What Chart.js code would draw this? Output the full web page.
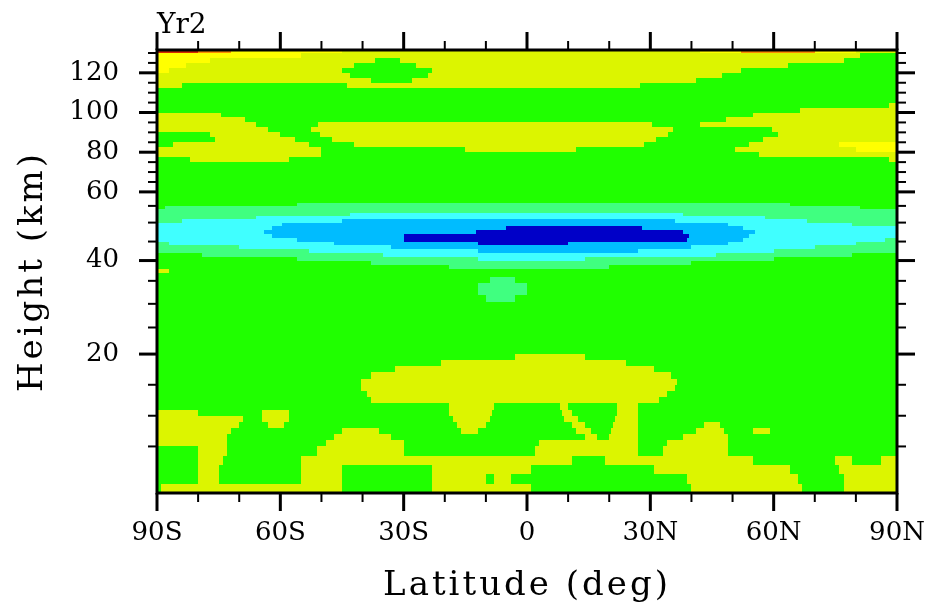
<!DOCTYPE html>
<html>
<head>
<meta charset="utf-8">
<script src="https://cdn.jsdelivr.net/npm/chart.js@4.4.1/dist/chart.umd.min.js"></script>
<style>
html,body{margin:0;padding:0;background:#fff;overflow:hidden;}
canvas{display:block;}
</style>
</head>
<body>
<canvas id="c" width="931" height="609"></canvas>
<script>
// ---------------- data ----------------
const plotTitle = 'Yr2';
const xTitle = 'Latitude (deg)';
const yTitle = 'Height (km)';

const latRange = [-90, 90];
const heightRange = [0, 131.5];

const latMajorTicks = [-90, -60, -30, 0, 30, 60, 90];
const latTickLabels = ['90S', '60S', '30S', '0', '30N', '60N', '90N'];
const latMinorTicks = [-80, -70, -50, -40, -20, -10, 10, 20, 40, 50, 70, 80];

const heightMajorTicks = [20, 40, 60, 80, 100, 120];
const heightMinorTicks = [5, 10, 15, 25, 30, 35, 45, 50, 55, 65, 70, 75, 85, 90, 95, 105, 110, 115, 125, 130];

// vertical coordinate of the model grid: height (km) -> fraction of the axis
const axisKnotHeights = [0, 5, 10, 15, 20, 25, 30, 35, 40, 45, 50, 55, 60, 131.5];
const axisKnotLevels  = [0, 0.1051, 0.1744, 0.2443, 0.3136, 0.3736, 0.4270, 0.4789, 0.5247, 0.5676, 0.6104, 0.6481, 0.6797, 1.0];

// contour class bands.
// rowEdgeHeights: height bands (km); rowRuns: "class lat class lat class ..." from 90S to 90N
const rowEdgeHeights = [
  0, 1, 2, 3, 4, 5, 6, 7, 8, 9, 10, 11, 12, 13, 14, 15, 16, 17, 18, 19, 20,
  30.5, 32, 34.5, 36, 37, 38, 39, 40, 41, 42, 43, 44, 45, 46, 47, 48, 49, 50,
  51, 52, 53, 54, 55, 56,
  75, 77.5, 80, 82.5, 85, 87.5, 90, 92.5, 95, 97.5, 100, 102.5, 105,
  112.5, 115, 117.5, 120, 122.5, 125, 127.5, 130, 131.5
];
const rowRuns = [
  'G -89 Y -45 G -23 Y 1 G 40 Y 67 G 77 Y',
  'G -80 Y -75 G -55 Y -45 G -23 Y -10 G -8 Y -4 G 39 Y 66 G 77 Y',
  'G -80 Y -75 G -55 Y -45 G -23 Y 1 G 31 Y 64 G 76 Y',
  'G -80 Y -74 G -55 Y 11 G 19 Y 55 G 75 Y 79 G 86 Y',
  'G -80 Y -73 G -51 Y -30 G 2 Y 27 G 33 Y 49 G',
  'Y -73 G -49 Y -30 G 3 Y 27 G 34 Y 49 G',
  'Y -73 G -47 Y -33 G 14 Y 17 G 20 Y 27 G 38 Y 49 G',
  'Y -72 G -45 Y -36 G -16 Y -12 G 12 Y 15.5 G 20.5 Y 27 G 41 Y 48 G 55 Y 59 G',
  'Y -70 G -63 Y -59 G -17 Y -10 G 11 Y 14 G 21 Y 27 G 43 Y 47 G',
  'Y -69 G -64.5 Y -58 G -18 Y -9 G 9 Y 12.5 G 21.5 Y 27 G',
  'Y -80 G -64.5 Y -58 G -19 Y -8.5 G 8.5 Y 11 G 22 Y 27 G',
  'G -19 Y -8 G 8 Y 10 G 22 Y 27 G',
  'G -38 Y 32 G',
  'G -39 Y 34 G',
  'G -40.5 Y 36 G',
  'G -40.5 Y 36.5 G',
  'G -38 Y 35 G',
  'G -32 Y 31 G',
  'G -21 Y 24 G',
  'G -3 Y 14 G',
  'G',
  'G -10 L -3 G',
  'G -12 L 0 G',
  'G -9 L -3 G',
  'G',
  'Y -87 G',
  'G -19 L 20 G',
  'G -38 L 40 G',
  'G -56 L -12 C 14 L 60 G',
  'G -79 L -35 C 46 L 79 G',
  'L -53 C -12 B 27 C 60 L',
  'L -70 C -33 B 40 C 70 L',
  'L -87 C -47 B -12 D 10 B 49 C 80 L',
  'C -56 B -30 D 39 B 52.5 C 87 L',
  'C -62 B -30 D 39.5 B 54 C',
  'C -64 B -12.5 D 38 B 55.5 C',
  'C -62 B -5 D 28 B 52.5 C',
  'C -59.5 B 49 C 79 L',
  'L -84 C -45 B 36 C 68 L',
  'L -66 C 58 L',
  'L -43 C 38 L',
  'L',
  'G -88 L 81 G',
  'G -56 L 64 G',
  'G',
  'G -82 Y -58 G 88 Y',
  'Y -50 G 56.5 Y',
  'Y -50 G -15 Y 12 G 50.5 Y 80 W',
  'G -86 Y -53 G -42 Y 28.5 G 54 Y 76 W',
  'G -76 Y -56.5 G -47.5 Y 31.3 G 57.3 Y',
  'G -77 Y -60 G -50.3 Y 34.2 G 61 Y',
  'Y -63 G -52.5 Y 35.5 G 59.7 Y',
  'Y -66 G -50.8 Y 30.5 G 42 Y',
  'Y -68.5 G 48.5 Y',
  'Y -74.5 G 55 Y',
  'G 66.4 Y',
  'G 88 Y',
  'G',
  'Y -84 G -43.7 Y 27.6 G',
  'Y -38 G -28 Y 41 G',
  'Y -43 G -24 Y 47.5 G',
  'W -87 Y -45 G -23 Y 52 G',
  'W -83 Y -42 G -27 Y 63.5 G',
  'W -77 Y -37 G -31 Y 77 G',
  'W -55 Y 81 G',
  'R -80 O -72 W -45 Y 42 W 52 O 70 W 80 Y'
];

// ---------------- styles ----------------
const levelColors = {
  D: '#0000c8', B: '#00bcff', C: '#40ffff', L: '#40ff80',
  G: '#20ff00', Y: '#dcf500', W: '#ffff00', O: '#ff8c00', R: '#d82800'
};
const FONT = "'DejaVu Serif', 'Liberation Serif', serif";
const titleLetterSpacing = '3px';

// ---------------- scales ----------------
function interp(v, xs, ys) {
  if (v <= xs[0]) return ys[0] + (v - xs[0]) * (ys[1] - ys[0]) / (xs[1] - xs[0]);
  for (let i = 1; i < xs.length; i++) {
    if (v <= xs[i]) return ys[i - 1] + (v - xs[i - 1]) * (ys[i] - ys[i - 1]) / (xs[i] - xs[i - 1]);
  }
  const n = xs.length - 1;
  return ys[n] + (v - xs[n]) * (ys[n] - ys[n - 1]) / (xs[n] - xs[n - 1]);
}

class HeightLevelScale extends Chart.LinearScale {
  getPixelForValue(value) {
    return this.getPixelForDecimal(interp(value, axisKnotHeights, axisKnotLevels));
  }
  getValueForPixel(pixel) {
    return interp(this.getDecimalForPixel(pixel), axisKnotLevels, axisKnotHeights);
  }
  drawTitle() {
    const ctx = this.ctx; ctx.save(); ctx.letterSpacing = titleLetterSpacing;
    super.drawTitle(); ctx.restore();
  }
}
HeightLevelScale.id = 'heightlevel';

class LatitudeScale extends Chart.LinearScale {
  drawTitle() {
    const ctx = this.ctx; ctx.save(); ctx.letterSpacing = titleLetterSpacing;
    super.drawTitle(); ctx.restore();
  }
}
LatitudeScale.id = 'latitude';
Chart.register(HeightLevelScale, LatitudeScale);

// ---------------- plugins ----------------
const contourCells = {
  id: 'contourCells',
  beforeDatasetsDraw(chart) {
    const {ctx, chartArea: a, scales: {x, y}} = chart;
    ctx.save();
    ctx.beginPath();
    ctx.rect(a.left, a.top, a.right - a.left, a.bottom - a.top);
    ctx.clip();
    rowRuns.forEach((run, i) => {
      const yTop = Math.round(y.getPixelForValue(rowEdgeHeights[i + 1]));
      const yBot = Math.round(y.getPixelForValue(rowEdgeHeights[i]));
      const parts = run.trim().split(/\s+/);
      let lat0 = latRange[0];
      for (let k = 0; k < parts.length; k += 2) {
        const lat1 = k + 1 < parts.length ? parseFloat(parts[k + 1]) : latRange[1];
        const x0 = Math.round(x.getPixelForValue(lat0));
        const x1 = Math.round(x.getPixelForValue(lat1));
        ctx.fillStyle = levelColors[parts[k]];
        ctx.fillRect(x0, yTop, x1 - x0, yBot - yTop);
        lat0 = lat1;
      }
    });
    ctx.restore();
  }
};

const frameTicks = {
  id: 'frameTicks',
  afterDraw(chart) {
    const {ctx, chartArea: a, scales: {x, y}} = chart;
    const line = (x1, y1, x2, y2, w) => {
      ctx.lineWidth = w; ctx.beginPath(); ctx.moveTo(x1, y1); ctx.lineTo(x2, y2); ctx.stroke();
    };
    ctx.save();
    ctx.strokeStyle = '#000';
    ctx.lineCap = 'butt';
    const MAJ = 18, MIN = 9;
    latMajorTicks.forEach(v => {
      const p = x.getPixelForValue(v);
      line(p, a.bottom, p, a.bottom + MAJ, 3);
      line(p, a.top, p, a.top - MAJ, 3);
    });
    latMinorTicks.forEach(v => {
      const p = x.getPixelForValue(v);
      line(p, a.bottom, p, a.bottom + MIN, 2);
      line(p, a.top, p, a.top - MIN, 2);
    });
    heightMajorTicks.forEach(v => {
      const p = y.getPixelForValue(v);
      line(a.left, p, a.left - MAJ, p, 3);
      line(a.right, p, a.right + MAJ, p, 3);
    });
    heightMinorTicks.forEach(v => {
      const p = y.getPixelForValue(v);
      line(a.left, p, a.left - MIN, p, 2);
      line(a.right, p, a.right + MIN, p, 2);
    });
    ctx.lineWidth = 3;
    ctx.strokeRect(a.left, a.top, a.right - a.left, a.bottom - a.top);
    ctx.restore();
  }
};

// ---------------- chart ----------------
Chart.defaults.color = '#000';
Chart.defaults.font.family = FONT;

const zeroPad = s => { s.paddingLeft = 0; s.paddingRight = 0; s.paddingTop = 0; s.paddingBottom = 0; };

new Chart(document.getElementById('c'), {
  type: 'scatter',
  data: { datasets: [{ data: [], pointRadius: 0 }] },
  plugins: [contourCells, frameTicks],
  options: {
    responsive: false,
    animation: false,
    devicePixelRatio: 1,
    layout: { padding: { left: 0, right: 34, top: 0, bottom: 0 } },
    plugins: {
      legend: { display: false },
      tooltip: { enabled: false },
      title: {
        display: true, text: plotTitle, align: 'start', fullSize: false,
        color: '#000', font: { family: FONT, size: 28, weight: 'normal' },
        padding: { top: 9, bottom: 7.4 }
      }
    },
    scales: {
      x: {
        type: 'latitude', position: 'bottom', bounds: 'data',
        min: latRange[0], max: latRange[1],
        afterBuildTicks: s => { s.ticks = latMajorTicks.map(v => ({ value: v })); },
        afterFit: s => { s.height = 116; zeroPad(s); },
        ticks: {
          autoSkip: false, maxRotation: 0, minRotation: 0, padding: 25,
          font: { family: FONT, size: 26 }, color: '#000',
          callback: (v, i) => latTickLabels[i]
        },
        grid: { display: false, drawTicks: false },
        border: { display: false },
        title: { display: true, text: xTitle, color: '#000', font: { family: FONT, size: 34 }, padding: { top: 0, bottom: 2 } }
      },
      y: {
        type: 'heightlevel', position: 'left', bounds: 'data',
        min: heightRange[0], max: heightRange[1],
        afterBuildTicks: s => { s.ticks = heightMajorTicks.map(v => ({ value: v })); },
        afterFit: s => { s.width = 157; zeroPad(s); },
        ticks: {
          autoSkip: false, padding: 38,
          font: { family: FONT, size: 26 }, color: '#000',
          callback: v => String(v)
        },
        grid: { display: false, drawTicks: false },
        border: { display: false },
        title: { display: true, text: yTitle, color: '#000', font: { family: FONT, size: 34 }, padding: { top: 12.8, bottom: 0 } }
      }
    }
  }
});
</script>
</body>
</html>
